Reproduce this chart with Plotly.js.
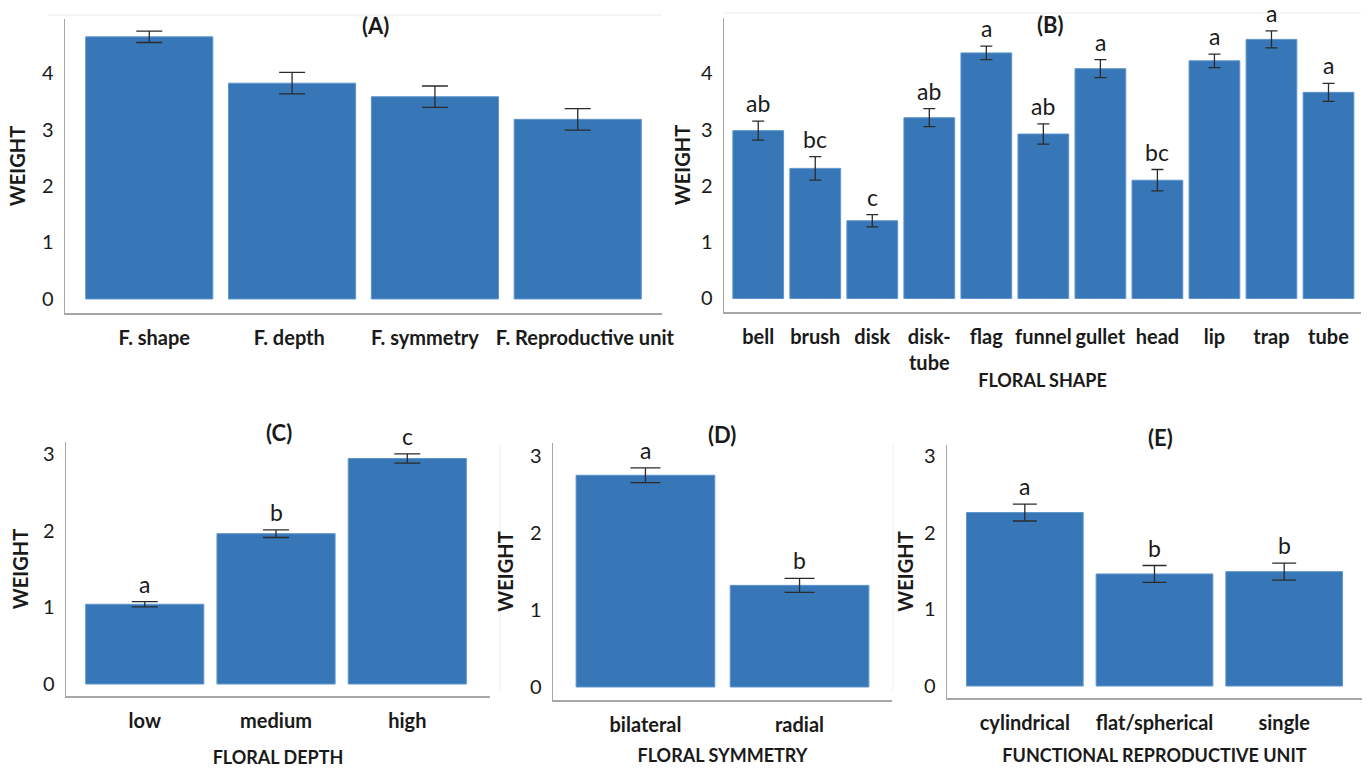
<!DOCTYPE html>
<html>
<head>
<meta charset="utf-8">
<script src="https://cdn.plot.ly/plotly-3.0.1.min.js"></script>
<style>
html,body{margin:0;padding:0;background:#fff;}
#chart{width:1367px;height:768px;}
</style>
</head>
<body>
<div id="chart"></div>
<script>
// ---- data ----
const catsA = ['F. shape', 'F. depth', 'F. symmetry', 'F. Reproductive unit'];
const valsA = [4.64, 3.82, 3.58, 3.18];
const errA  = [0.10, 0.19, 0.19, 0.19];

const catsB   = ['bell', 'brush', 'disk', 'disk-tube', 'flag', 'funnel', 'gullet', 'head', 'lip', 'trap', 'tube'];
const ticksB  = ['bell', 'brush', 'disk', 'disk-<br>tube', 'flag', 'funnel', 'gullet', 'head', 'lip', 'trap', 'tube'];
const valsB   = [2.98, 2.31, 1.38, 3.21, 4.36, 2.92, 4.08, 2.10, 4.22, 4.60, 3.66];
const errB    = [0.17, 0.21, 0.11, 0.16, 0.12, 0.18, 0.16, 0.19, 0.12, 0.15, 0.16];
const lettersB = ['ab', 'bc', 'c', 'ab', 'a', 'ab', 'a', 'bc', 'a', 'a', 'a'];

const catsC   = ['low', 'medium', 'high'];
const valsC   = [1.04, 1.96, 2.94];
const errC    = [0.035, 0.05, 0.06];
const lettersC = ['a', 'b', 'c'];

const catsD   = ['bilateral', 'radial'];
const valsD   = [2.75, 1.32];
const errD    = [0.095, 0.09];
const lettersD = ['a', 'b'];

const catsE   = ['cylindrical', 'flat/spherical', 'single'];
const valsE   = [2.26, 1.46, 1.49];
const errE    = [0.11, 0.11, 0.11];
const lettersE = ['a', 'b', 'b'];

const panelTitles = ['(A)', '(B)', '(C)', '(D)', '(E)'];
const xTitles = ['', 'FLORAL SHAPE', 'FLORAL DEPTH', 'FLORAL SYMMETRY', 'FUNCTIONAL REPRODUCTIVE UNIT'];
const yTitle = 'WEIGHT';

// ---- layout helpers ----
const W = 1367, H = 768;
const FONT = 'Lato, "Open Sans", sans-serif';
const BAR = '#3777b7';
const px = v => v / W;
const py = v => 1 - v / H;

function bar(cats, vals, errs, n, capw, bw) {
  return {
    type: 'bar', x: cats, y: vals,
    xaxis: 'x' + (n === 1 ? '' : n), yaxis: 'y' + (n === 1 ? '' : n),
    width: bw,
    marker: {color: BAR, line: {color: '#5e95cc', width: 1}},
    error_y: {type: 'data', array: errs, visible: true, color: '#2b2b2b', thickness: 1.3, width: capw},
    hoverinfo: 'x+y', showlegend: false
  };
}

const data = [
  bar(catsA, valsA, errA, 1, 13, 0.89),
  bar(catsB, valsB, errB, 2, 6, 0.89),
  bar(catsC, valsC, errC, 3, 13, 0.9),
  bar(catsD, valsD, errD, 4, 15, 0.9),
  bar(catsE, valsE, errE, 5, 12, 0.9)
];

function xax(dom, range, tickvals, ticktext, title, standoff, anchor) {
  const a = {
    domain: [px(dom[0]), px(dom[1])], range: range, type: 'category', anchor: anchor,
    showline: true, linecolor: '#a6a6a6', linewidth: 1.5, showgrid: false, zeroline: false,
    ticks: '', tickmode: 'array', tickvals: tickvals, ticktext: ticktext, tickangle: 0,
    tickfont: {family: FONT, size: 20, color: '#1a1a1a', weight: 'bold'},
    ticklabelstandoff: 6, fixedrange: true
  };
  if (title) a.title = {text: title, font: {family: FONT, size: 18, color: '#1a1a1a', weight: 'bold'}, standoff: standoff};
  return a;
}
function yax(dom, range, tickvals, anchor, tstand) {
  return {
    domain: [py(dom[1]), py(dom[0])], range: range, anchor: anchor,
    showline: true, linecolor: '#a6a6a6', linewidth: 1.5, showgrid: false, zeroline: false,
    ticks: '', tickmode: 'array', tickvals: tickvals,
    tickfont: {family: FONT, size: 20, color: '#1a1a1a'},
    ticklabelstandoff: 6, fixedrange: true,
    title: {text: yTitle, font: {family: FONT, size: 20, color: '#1a1a1a', weight: 'bold'}, standoff: tstand}
  };
}

// panel A labels sit slightly off the bar centres in the reference (to avoid collisions)
const labelNudgeA = [0.035, -0.02, -0.07, 0.05];
const tickPosA = catsA.map((c, i) => i + labelNudgeA[i]);

const layout = {
  width: W, height: H,
  margin: {l: 0, r: 0, t: 0, b: 0},
  paper_bgcolor: '#fff', plot_bgcolor: 'rgba(0,0,0,0)',
  bargap: 0.1,
  xaxis:  xax([65, 662],   [-0.59, 3.59], tickPosA, catsA, xTitles[0], 10, 'y'),
  yaxis:  yax([19, 313],   [-0.248, 4.956], [0, 1, 2, 3, 4], 'x', 11),
  xaxis2: xax([724, 1361], [-0.6, 10.57], catsB, ticksB, xTitles[1], 2, 'y2'),
  yaxis2: yax([18, 312],   [-0.24, 4.98], [0, 1, 2, 3, 4], 'x2', 5),
  xaxis3: xax([66, 490],   [-0.6, 2.63], catsC, catsC, xTitles[2], 22, 'y3'),
  yaxis3: yax([442, 696],  [-0.156, 3.155], [0, 1, 2, 3], 'x3', 9),
  xaxis4: xax([553, 892],  [-0.6, 1.6], catsD, catsD, xTitles[3], 15, 'y4'),
  yaxis4: yax([443, 700],  [-0.169, 3.169], [0, 1, 2, 3], 'x4', 11),
  xaxis5: xax([947, 1362], [-0.6, 2.6], catsE, catsE, xTitles[4], 17, 'y5'),
  yaxis5: yax([445, 698],  [-0.156, 3.14], [0, 1, 2, 3], 'x5', 5),
  annotations: [],
  shapes: [
    {type: 'line', xref: 'paper', yref: 'paper', x0: px(48), x1: px(662), y0: py(15), y1: py(15), line: {color: '#ececec', width: 1}},
    {type: 'line', xref: 'paper', yref: 'paper', x0: px(724), x1: px(1361), y0: py(13), y1: py(13), line: {color: '#ececec', width: 1}},
    {type: 'line', xref: 'paper', yref: 'paper', x0: px(500), x1: px(500), y0: py(445), y1: py(690), line: {color: '#ececec', width: 1}},
    {type: 'line', xref: 'paper', yref: 'paper', x0: px(893), x1: px(893), y0: py(445), y1: py(690), line: {color: '#ececec', width: 1}}
  ]
};

// panel titles
const titlePos = [[375, 25], [1050, 24], [279, 432], [722, 434], [1160, 437]];
panelTitles.forEach((t, i) => {
  layout.annotations.push({
    text: t, xref: 'paper', yref: 'paper', x: px(titlePos[i][0]), y: py(titlePos[i][1]),
    xanchor: 'center', yanchor: 'middle', showarrow: false,
    font: {family: FONT, size: 22, color: '#1a1a1a', weight: 'bold'}
  });
});

// significance letters
function letters(cats, vals, errs, labs, n) {
  cats.forEach((c, i) => {
    layout.annotations.push({
      text: labs[i], xref: 'x' + n, yref: 'y' + n, x: c, y: vals[i] + errs[i],
      xanchor: 'center', yanchor: 'bottom', yshift: 2, showarrow: false,
      font: {family: FONT, size: 23, color: '#1a1a1a'}
    });
  });
}
letters(catsB, valsB, errB, lettersB, 2);
letters(catsC, valsC, errC, lettersC, 3);
letters(catsD, valsD, errD, lettersD, 4);
letters(catsE, valsE, errE, lettersE, 5);

Plotly.newPlot('chart', data, layout, {displayModeBar: false, staticPlot: true});
</script>
</body>
</html>
